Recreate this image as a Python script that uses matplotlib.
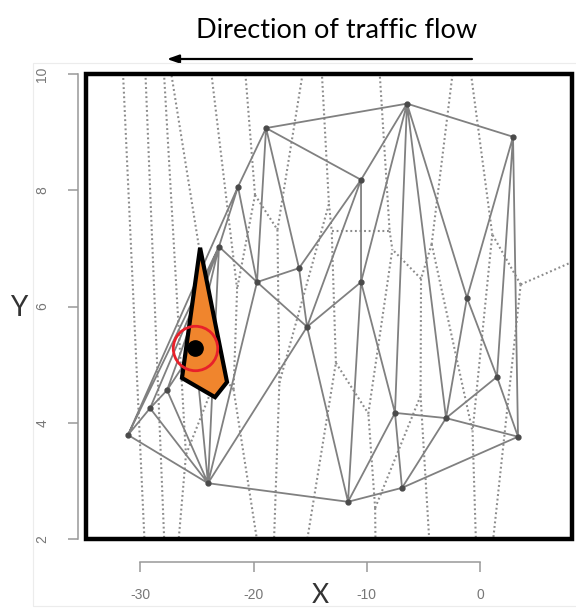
import numpy as np
import matplotlib
matplotlib.use("Agg")
import matplotlib.pyplot as plt
import matplotlib.tri as mtri
from matplotlib.patches import Rectangle, Polygon

plt.rcParams['font.family'] = ['Liberation Sans', 'DejaVu Sans']
plt.rcParams['axes.unicode_minus'] = False

# sensor / vehicle positions
node_x = [-31.1, -29.15, -27.65, -24.03, -25.18, -23.06, -21.38, -18.9, -19.7,
          -15.99, -15.28, -10.51, -10.51, -6.45, -1.15, 2.92, 1.5, -3.0,
          -7.51, -6.89, -11.66, 3.36]
node_y = [3.79, 4.25, 4.56, 2.96, 5.29, 7.03, 8.06, 9.07, 6.42,
          6.66, 5.65, 8.18, 6.42, 9.49, 6.15, 8.92, 4.79, 4.08,
          4.17, 2.88, 2.64, 3.76]

# highlighted cell and the point inside it
cell_x = [-24.73, -22.35, -23.41, -26.33]
cell_y = [7.01, 4.70, 4.44, 4.77]
target_x = -25.18
target_y = 5.29

x_ticks = [-30, -20, -10, 0]
y_ticks = [2, 4, 6, 8, 10]

nx = np.array(node_x)
ny = np.array(node_y)
tri = mtri.Triangulation(nx, ny)

# circumcentres of the delaunay triangles -> voronoi vertices
pts = np.column_stack([nx, ny])
a = pts[tri.triangles[:, 0]]
b = pts[tri.triangles[:, 1]]
c = pts[tri.triangles[:, 2]]
d = 2 * (a[:, 0] * (b[:, 1] - c[:, 1]) + b[:, 0] * (c[:, 1] - a[:, 1]) + c[:, 0] * (a[:, 1] - b[:, 1]))
ux = ((a ** 2).sum(1) * (b[:, 1] - c[:, 1]) + (b ** 2).sum(1) * (c[:, 1] - a[:, 1]) + (c ** 2).sum(1) * (a[:, 1] - b[:, 1])) / d
uy = ((a ** 2).sum(1) * (c[:, 0] - b[:, 0]) + (b ** 2).sum(1) * (a[:, 0] - c[:, 0]) + (c ** 2).sum(1) * (b[:, 0] - a[:, 0])) / d
cc = np.column_stack([ux, uy])

vor_segs = []
for i, t in enumerate(tri.triangles):
    for j in range(3):
        nb = tri.neighbors[i, j]
        if nb > i:
            vor_segs.append((cc[i], cc[nb]))
        elif nb == -1:
            p, q, r = pts[t[j]], pts[t[(j + 1) % 3]], pts[t[(j + 2) % 3]]
            e = q - p
            n = np.array([-e[1], e[0]])
            if np.dot(n, (p + q) / 2 - r) < 0:
                n = -n
            n = n / np.linalg.norm(n)
            vor_segs.append((cc[i], cc[i] + n * 500))

fig = plt.figure(figsize=(5.76, 6.10), dpi=100)
ax = fig.add_axes([86 / 576, 71 / 610, 486 / 576, 465 / 610])

for s0, s1 in vor_segs:
    ax.plot([s0[0], s1[0]], [s0[1], s1[1]], color='#8c8c8c', lw=1.5,
            ls=(0, (0.9, 1.3)), zorder=1)

ax.triplot(tri, color='#808080', lw=1.3, zorder=2)
ax.plot(nx, ny, 'o', color='#4a4a4a', ms=3.5, zorder=3)

ax.add_patch(Polygon(np.column_stack([cell_x, cell_y]), closed=True,
                     facecolor='#F0852D', edgecolor='black', lw=3, zorder=4))
ax.plot(target_x, target_y, 'o', color='black', ms=11, zorder=5)
ax.plot(target_x, target_y, 'o', mfc='none', mec='#e8202a', mew=2, ms=32, zorder=6)

ax.set_xlim(-34.81, 8.13)
ax.set_ylim(2, 10)

# R style detached axes
for side in ['top', 'right']:
    ax.spines[side].set_visible(False)
ax.spines['left'].set_position(('outward', 6))
ax.spines['bottom'].set_position(('outward', 16.5))
ax.spines['left'].set_bounds(2, 10)
ax.spines['bottom'].set_bounds(-30, 0)
for side in ['left', 'bottom']:
    ax.spines[side].set_color('#999999')
    ax.spines[side].set_linewidth(1.1)
ax.set_xticks(x_ticks)
ax.set_yticks(y_ticks)
ax.tick_params(axis='both', colors='#999999', labelcolor='#777777', length=7.5,
               width=1.1, labelsize=10)
ax.tick_params(axis='y', pad=13, labelrotation=90)
ax.tick_params(axis='x', pad=11)
for lab in ax.get_yticklabels():
    lab.set_va('center')

# thick plot box
ax.add_patch(Rectangle((0, 0), 1, 1, transform=ax.transAxes, fill=False,
                       edgecolor='black', lw=3.2, clip_on=False, zorder=10))

# faint outer frame
fig.add_artist(Rectangle((33 / 576, 4 / 610), 0.99, 543 / 610,
                         transform=fig.transFigure, fill=False,
                         edgecolor='#ececec', lw=0.8))

fig.text(337 / 576, 1 - 30 / 610, 'Direction of traffic flow', ha='center',
         va='center', fontsize=19.5, family=['Lato', 'DejaVu Sans'])
ax.annotate('', xy=(167 / 576, 1 - 59 / 610), xytext=(472 / 576, 1 - 59 / 610),
            xycoords='figure fraction', textcoords='figure fraction',
            arrowprops=dict(arrowstyle='-|>,head_length=0.7,head_width=0.25',
                            color='black', lw=1.6, shrinkA=0, shrinkB=0))
fig.text(19 / 576, 1 - 308 / 610, 'Y', ha='center', va='center', fontsize=20,
         color='#333333', family=['Lato', 'DejaVu Sans'])
fig.text(320 / 576, 2 / 610, 'X', ha='center', va='bottom', fontsize=19,
         color='#333333', family=['Lato', 'DejaVu Sans'])

fig.savefig('out.png', dpi=100)
